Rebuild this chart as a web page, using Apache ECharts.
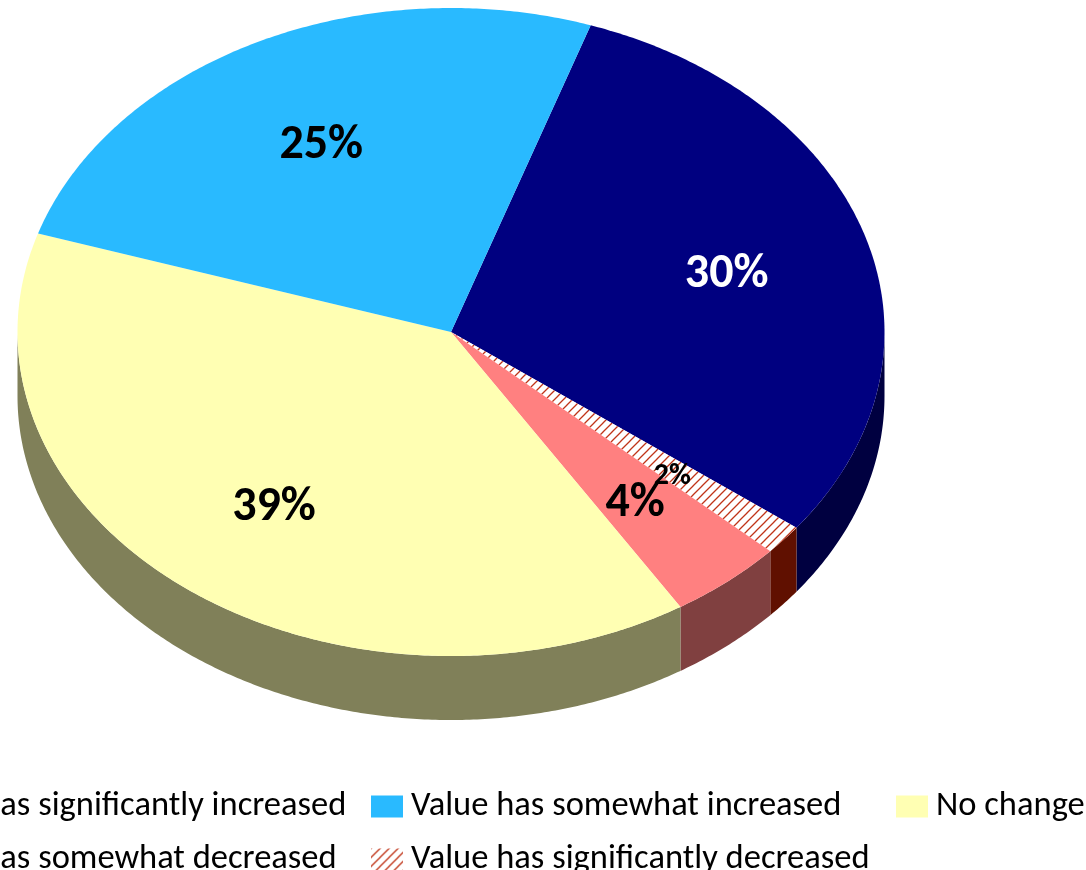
<!DOCTYPE html>
<html>
<head>
<meta charset="utf-8">
<style>
  html, body { margin: 0; padding: 0; background: #fff; overflow: hidden; }
  #chart { width: 1086px; height: 870px; }
</style>
<script src="https://cdn.jsdelivr.net/npm/echarts@6/dist/echarts.min.js"></script>
</head>
<body>
<div id="chart"></div>
<script>
// Values, clockwise from the navy slice
const sliceNames = [
  'Value has significantly increased',
  'Value has significantly decreased',
  'Value has somewhat decreased',
  'No change',
  'Value has somewhat increased'
];
const sliceValues = [30.1, 1.5, 4.3, 38.8, 25.3];
const topColors = ['#000080', null, '#FF8080', '#FFFFB3', '#29BAFF'];
const wallColors = ['#000040', '#601000', '#804040', '#808059', '#145D80'];
const labelSizes = [48, 30, 48, 48, 48];
const labelColors = ['#fff', '#000', '#000', '#000', '#000'];

// Tilted pie shape
const cx = 451, cy = 332, rx = 433.5, ry = 324, depth = 64;
const startAngle = 18.8;
const labelRadius = 0.665;
const labelDrop = 6;
const fontName = 'Carlito, Lato, sans-serif';

// Red hatch used by the small slice and its legend swatch
function makeHatch() {
  const size = 9;
  const c = document.createElement('canvas');
  c.width = size;
  c.height = size;
  const ctx = c.getContext('2d');
  ctx.fillStyle = '#fff';
  ctx.fillRect(0, 0, size, size);
  ctx.strokeStyle = '#C03418';
  ctx.lineWidth = 1.3;
  ctx.beginPath();
  ctx.moveTo(-2, size + 2); ctx.lineTo(size + 2, -2);
  ctx.moveTo(-2, 2); ctx.lineTo(2, -2);
  ctx.moveTo(size - 2, size + 2); ctx.lineTo(size + 2, size - 2);
  ctx.stroke();
  return { image: c, repeat: 'repeat' };
}
const hatch = makeHatch();

// Point on the top ellipse, angle in degrees clockwise from 12 o'clock
function rim(deg) {
  const a = deg * Math.PI / 180;
  return [cx + rx * Math.sin(a), cy - ry * Math.cos(a)];
}

function arcPoints(from, to) {
  const pts = [];
  const steps = Math.max(2, Math.ceil((to - from) * 2));
  for (let i = 0; i <= steps; i++) {
    pts.push(rim(from + (to - from) * i / steps));
  }
  return pts;
}

const total = sliceValues.reduce((a, b) => a + b, 0);
const startAngles = [];
let running = startAngle;
sliceValues.forEach((v) => {
  startAngles.push(running);
  running += v / total * 360;
});

function makeRenderItem(index) {
  return function () {
    const from = startAngles[index];
    const to = from + sliceValues[index] / total * 360;
    const children = [];

    // Outer wall, only the front half of the rim can be seen
    const wallFrom = Math.max(from, 90);
    const wallTo = Math.min(to, 270);
    if (wallTo > wallFrom) {
      const upper = arcPoints(wallFrom, wallTo);
      const lower = upper.map((p) => [p[0], p[1] + depth]).reverse();
      children.push({
        type: 'polygon',
        shape: { points: upper.concat(lower) },
        style: { fill: wallColors[index] },
        z2: 1
      });
    }

    // Top face
    children.push({
      type: 'polygon',
      shape: { points: [[cx, cy]].concat(arcPoints(from, to)) },
      style: { fill: topColors[index] || hatch },
      z2: 2
    });

    // Percent label
    const mid = (from + to) / 2 * Math.PI / 180;
    children.push({
      type: 'text',
      z2: 10,
      style: {
        x: cx + rx * labelRadius * Math.sin(mid),
        y: cy - ry * labelRadius * Math.cos(mid) + labelDrop,
        text: (sliceValues[index] / total * 100).toFixed(0) + '%',
        fill: labelColors[index],
        font: 'bold ' + labelSizes[index] + 'px ' + fontName,
        align: 'center',
        verticalAlign: 'middle'
      }
    });
    return { type: 'group', children: children };
  };
}

// One small legend per entry, the layout in the picture is not a regular grid
const legendSpots = [
  { name: sliceNames[0], left: -143, top: 789 },
  { name: sliceNames[4], left: 371, top: 789 },
  { name: sliceNames[3], left: 896, top: 789 },
  { name: sliceNames[2], left: -143, top: 842 },
  { name: sliceNames[1], left: 371, top: 842 }
];

const chart = echarts.init(document.getElementById('chart'), null, { renderer: 'canvas' });
chart.setOption({
  animation: false,
  backgroundColor: '#fff',
  legend: legendSpots.map((s) => ({
    data: [s.name],
    left: s.left,
    top: s.top,
    padding: 0,
    icon: 'rect',
    itemWidth: 32,
    itemHeight: 22,
    selectedMode: false,
    textStyle: { fontFamily: fontName, fontSize: 34.5, color: '#000', padding: [0, 0, 4, 3] }
  })),
  series: sliceNames.map((name, i) => ({
    type: 'custom',
    name: name,
    coordinateSystem: 'none',
    silent: true,
    itemStyle: { color: topColors[i] || hatch },
    data: [[sliceValues[i]]],
    renderItem: makeRenderItem(i)
  }))
});
</script>
</body>
</html>
